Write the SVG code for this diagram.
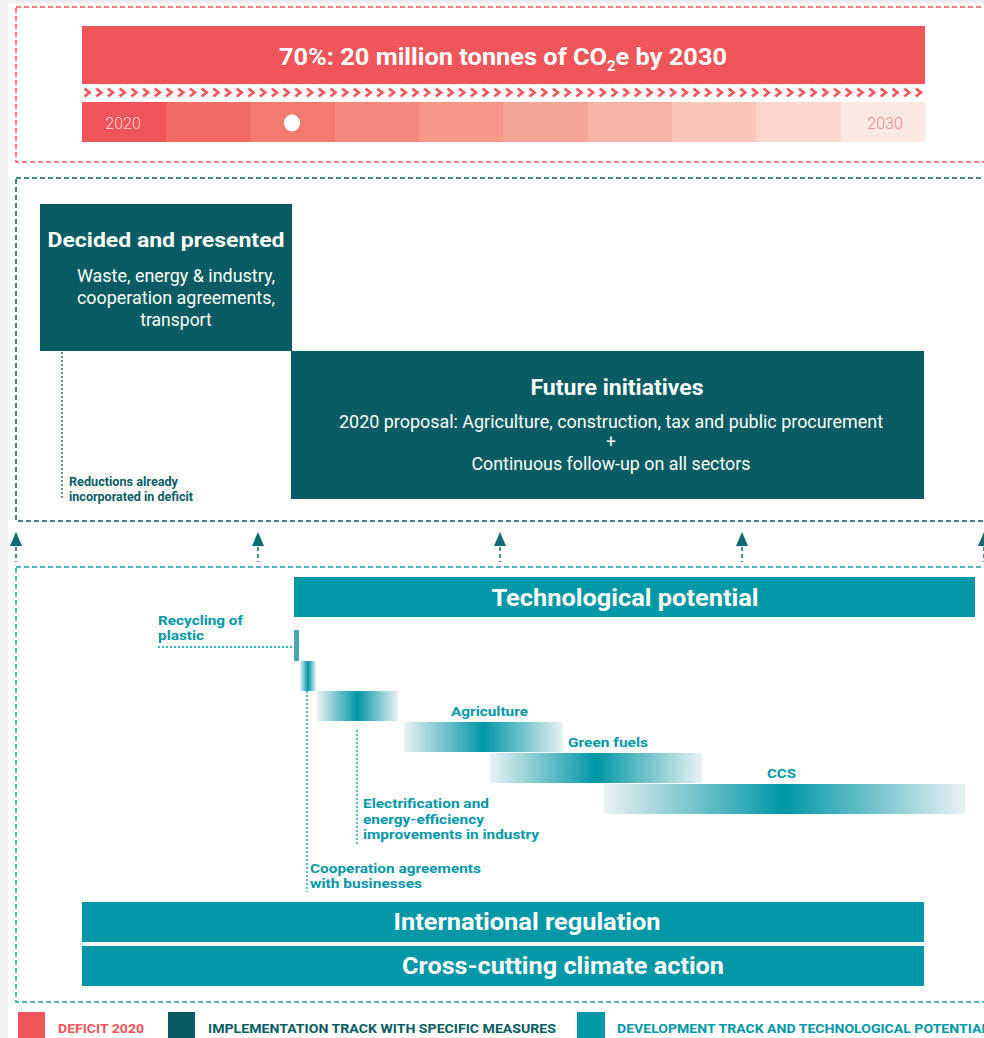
<svg xmlns="http://www.w3.org/2000/svg" width="984" height="1038" viewBox="0 0 984 1038">
<defs>
<style>
.h{font-family:Roboto,"Liberation Sans",sans-serif;font-weight:700;fill:#fff;text-anchor:middle}
.b{font-family:Roboto,"Liberation Sans",sans-serif;font-weight:400;fill:#fff;text-anchor:middle;font-size:17.5px}
.s{font-family:Roboto,"Liberation Sans",sans-serif;font-weight:700;font-size:13px}
.lg{font-family:Roboto,"Liberation Sans",sans-serif;font-weight:700;font-size:13px}
.dt{fill:none;stroke-dasharray:2 2;stroke-width:1.3}
.arr{fill:#0d6b72}
.stem{stroke:#0d6b72;stroke-width:1.5;stroke-dasharray:4 3}
</style>
<pattern id="chev" x="82" y="87" width="11.71" height="11" patternUnits="userSpaceOnUse">
<polyline points="2.5,1.5 7.5,5.5 2.5,9.5" fill="none" stroke="#f0555a" stroke-width="2.8"/>
</pattern>
<linearGradient id="gb" x1="0" y1="0" x2="1" y2="0">
<stop offset="0" stop-color="#eaf1f3"/>
<stop offset="0.5" stop-color="#0097a7"/>
<stop offset="1" stop-color="#eaf1f3"/>
</linearGradient>
</defs>
<rect width="984" height="1038" fill="#f2f2f2"/>
<rect x="8" y="3" width="976" height="1035" fill="#fff"/>

<g id="frames" fill="none" stroke-width="1.5">
<rect x="16" y="7" width="1000" height="155" stroke="#f0555a" stroke-dasharray="5 3"/>
<rect x="16" y="178" width="1000" height="343" stroke="#0a5c63" stroke-dasharray="5 3"/>
<rect x="16" y="567" width="1000" height="435" stroke="#1a9eab" stroke-dasharray="5 3"/>
</g>

<g id="target">
<rect x="82" y="26" width="843" height="58" fill="#f0555a"/>
<text x="503" y="65" class="h" font-size="24" textLength="448" lengthAdjust="spacingAndGlyphs">70%: 20 million tonnes of CO<tspan font-size="14" dy="6">2</tspan><tspan dy="-6">e by 2030</tspan></text>
</g>

<g id="chevrons">
<rect x="82" y="87" width="843" height="11" fill="url(#chev)"/>
</g>

<g id="timeline">
<rect x="82" y="102" width="85" height="40" fill="#f0555a"/>
<rect x="166.3" y="102" width="85" height="40" fill="#f26a63"/>
<rect x="250.6" y="102" width="85" height="40" fill="#f37a6f"/>
<rect x="334.9" y="102" width="85" height="40" fill="#f5897d"/>
<rect x="419.2" y="102" width="85" height="40" fill="#f79689"/>
<rect x="503.5" y="102" width="85" height="40" fill="#f5a597"/>
<rect x="587.8" y="102" width="85" height="40" fill="#f9b4a7"/>
<rect x="672.1" y="102" width="85" height="40" fill="#f9c6b9"/>
<rect x="756.4" y="102" width="85" height="40" fill="#fcd7cd"/>
<rect x="840.7" y="102" width="84.3" height="40" fill="#fde8e2"/>
<text x="123" y="129" font-family="Roboto,'Liberation Sans',sans-serif" font-weight="300" font-size="16" fill="#fbd3cf" text-anchor="middle">2020</text>
<text x="885" y="129" font-family="Roboto,'Liberation Sans',sans-serif" font-weight="300" font-size="16" fill="#f08585" text-anchor="middle">2030</text>
<ellipse cx="292" cy="123" rx="8" ry="8.5" fill="#fff"/>
</g>

<g id="decided">
<rect x="40" y="204" width="252" height="147" fill="#075c63"/>
<text x="166" y="247" class="h" font-size="21" textLength="237" lengthAdjust="spacingAndGlyphs">Decided and presented</text>
<text x="176" y="282" class="b" textLength="198" lengthAdjust="spacingAndGlyphs">Waste, energy &amp; industry,</text>
<text x="176" y="304" class="b" textLength="198" lengthAdjust="spacingAndGlyphs">cooperation agreements,</text>
<text x="176" y="326" class="b">transport</text>
</g>

<g id="future">
<rect x="291" y="351" width="633" height="148" fill="#075c63"/>
<text x="617" y="395" class="h" font-size="22" textLength="173" lengthAdjust="spacingAndGlyphs">Future initiatives</text>
<text x="611" y="428" class="b" textLength="544" lengthAdjust="spacingAndGlyphs">2020 proposal: Agriculture, construction, tax and public procurement</text>
<text x="611" y="448" class="b">+</text>
<text x="611" y="470" class="b" textLength="279" lengthAdjust="spacingAndGlyphs">Continuous follow-up on all sectors</text>
</g>

<g id="reductions">
<line x1="62" y1="352" x2="62" y2="500" class="dt" stroke="#0a5c63"/>
<text class="s" fill="#0a5c63"><tspan x="69" y="486" textLength="109" lengthAdjust="spacingAndGlyphs">Reductions already</tspan><tspan x="69" y="501" textLength="124" lengthAdjust="spacingAndGlyphs">incorporated in deficit</tspan></text>
</g>

<g id="connectors">
<line x1="16" y1="547" x2="16" y2="562" class="stem"/>
<path d="M16 532 L22 546 L10 546 Z" class="arr"/>
<line x1="258" y1="547" x2="258" y2="562" class="stem"/>
<path d="M258 532 L264 546 L252 546 Z" class="arr"/>
<line x1="500" y1="547" x2="500" y2="562" class="stem"/>
<path d="M500 532 L506 546 L494 546 Z" class="arr"/>
<line x1="742" y1="547" x2="742" y2="562" class="stem"/>
<path d="M742 532 L748 546 L736 546 Z" class="arr"/>
<line x1="984" y1="547" x2="984" y2="562" class="stem"/>
<path d="M984 532 L990 546 L978 546 Z" class="arr"/>
</g>

<g id="tech">
<rect x="294" y="577" width="681" height="40" fill="#0097a7"/>
<text x="625" y="606" class="h" font-size="24" textLength="267" lengthAdjust="spacingAndGlyphs">Technological potential</text>
</g>

<g id="bars">
<rect x="294" y="630" width="5" height="31" fill="#4aa5b0"/>
<rect x="300" y="661" width="16" height="30" fill="url(#gb)"/>
<rect x="317" y="691" width="81" height="30" fill="url(#gb)"/>
<rect x="404" y="722" width="159" height="30" fill="url(#gb)"/>
<rect x="490" y="753" width="212" height="30" fill="url(#gb)"/>
<rect x="604" y="784" width="361" height="30" fill="url(#gb)"/>
</g>

<g id="labels" fill="#0097a7">
<line x1="158" y1="647" x2="294" y2="647" class="dt" stroke="#0097a7"/>
<text class="s" fill="#0097a7"><tspan x="158" y="625" textLength="85" lengthAdjust="spacingAndGlyphs">Recycling of</tspan><tspan x="158" y="640" textLength="46" lengthAdjust="spacingAndGlyphs">plastic</tspan></text>
<text x="451" y="716" class="s" fill="#0097a7" textLength="77" lengthAdjust="spacingAndGlyphs">Agriculture</text>
<text x="568" y="747" class="s" fill="#0097a7" textLength="80" lengthAdjust="spacingAndGlyphs">Green fuels</text>
<text x="767" y="778" class="s" fill="#0097a7" textLength="29" lengthAdjust="spacingAndGlyphs">CCS</text>
<line x1="357" y1="730" x2="357" y2="845" class="dt" stroke="#0097a7"/>
<text class="s" fill="#0097a7"><tspan x="363" y="808" textLength="126" lengthAdjust="spacingAndGlyphs">Electrification and</tspan><tspan x="363" y="824" textLength="121" lengthAdjust="spacingAndGlyphs">energy-efficiency</tspan><tspan x="363" y="839" textLength="176" lengthAdjust="spacingAndGlyphs">improvements in industry</tspan></text>
<line x1="307" y1="691" x2="307" y2="892" class="dt" stroke="#0097a7"/>
<text class="s" fill="#0097a7"><tspan x="310" y="873" textLength="171" lengthAdjust="spacingAndGlyphs">Cooperation agreements</tspan><tspan x="310" y="888" textLength="112" lengthAdjust="spacingAndGlyphs">with businesses</tspan></text>
</g>

<g id="international">
<rect x="82" y="902" width="842" height="40" fill="#0097a7"/>
<text x="527" y="930" class="h" font-size="24" textLength="267" lengthAdjust="spacingAndGlyphs">International regulation</text>
</g>
<g id="crosscutting">
<rect x="82" y="946" width="842" height="40" fill="#0097a7"/>
<text x="563" y="974" class="h" font-size="24" textLength="322" lengthAdjust="spacingAndGlyphs">Cross-cutting climate action</text>
</g>

<g id="legend">
<rect x="18" y="1012" width="27" height="26" fill="#f0555a"/>
<text x="58" y="1033" class="lg" fill="#f0555a" textLength="86" lengthAdjust="spacingAndGlyphs">DEFICIT 2020</text>
<rect x="168" y="1012" width="27" height="26" fill="#075c63"/>
<text x="208" y="1033" class="lg" fill="#075c63" textLength="348" lengthAdjust="spacingAndGlyphs">IMPLEMENTATION TRACK WITH SPECIFIC MEASURES</text>
<rect x="577" y="1012" width="28" height="26" fill="#0097a7"/>
<text x="617" y="1033" class="lg" fill="#0097a7" textLength="372" lengthAdjust="spacingAndGlyphs">DEVELOPMENT TRACK AND TECHNOLOGICAL POTENTIAL</text>
</g>
</svg>
